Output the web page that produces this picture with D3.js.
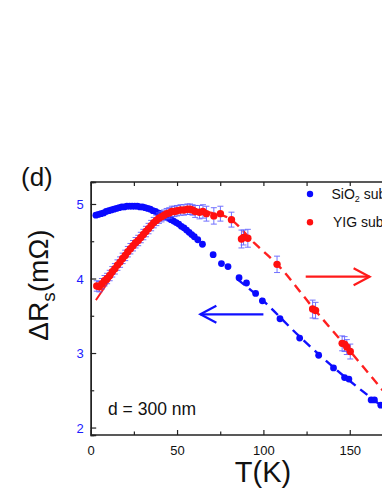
<!DOCTYPE html>
<html>
<head>
<meta charset="utf-8">
<script src="https://cdn.jsdelivr.net/npm/d3@7"></script>
<style>
  body { margin: 0; background: #fff; }
  svg { display: block; font-family: "Liberation Sans", Arial, sans-serif; }
</style>
</head>
<body>
<div id="chart"></div>
<script>
// SiO2 substrate (left axis, blue) : T (K), dRs (mOhm)
var blueT = [3, 4.5, 6, 7.5, 9, 10.5, 12, 13.5, 15, 16.5, 18, 19.5, 21, 22.5, 24, 25.5, 27, 28.5, 30, 31.5,
  33, 34.5, 36, 37.5, 39, 40.5, 42, 43.5, 45, 46.5, 48, 49.5, 51, 52.5, 54, 55.5, 57, 58.5, 60, 62,
  64.7, 70.9, 75.7, 79.5, 85.9, 90.2, 95.5, 99.4, 109.6, 121, 132, 140.6, 147, 149.5, 162.4, 164.3, 168];
var blueR = [4.85, 4.86, 4.87, 4.88, 4.90, 4.91, 4.92, 4.93, 4.94, 4.95, 4.96, 4.96, 4.97, 4.97, 4.97, 4.97, 4.97, 4.96, 4.96, 4.95,
  4.94, 4.93, 4.91, 4.90, 4.88, 4.87, 4.85, 4.83, 4.81, 4.79, 4.77, 4.75, 4.73, 4.70, 4.68, 4.65, 4.62, 4.59, 4.56, 4.52,
  4.46, 4.32, 4.20, 4.16, 4.01, 3.94, 3.80, 3.70, 3.46, 3.20, 2.97, 2.80, 2.67, 2.65, 2.37, 2.37, 2.30];

// YIG substrate (right axis, red), given in left-axis units
var redT = [3.5, 5, 6.5, 8, 9.5, 11, 12.5, 14, 15.5, 17, 18.5, 20, 21.5, 23, 24.5, 26, 27.5, 29, 30.5, 32,
  33.5, 35, 36.5, 38, 39.5, 41, 42.5, 44, 45.5, 47, 48.5, 50, 52, 54, 56, 57.5, 59, 60.5, 63, 65,
  67, 71.3, 75.1, 81.5, 87.3, 88.5, 91, 107.9, 128.5, 130.2, 145.6, 147, 148.3, 150.3];
var redR = [3.90, 3.89, 3.93, 3.97, 4.00, 4.04, 4.09, 4.13, 4.18, 4.22, 4.27, 4.31, 4.36, 4.40, 4.44, 4.48, 4.51, 4.55, 4.59, 4.63,
  4.67, 4.71, 4.75, 4.78, 4.81, 4.83, 4.85, 4.87, 4.88, 4.90, 4.90, 4.91, 4.92, 4.92, 4.93, 4.93, 4.92, 4.90, 4.89, 4.90,
  4.87, 4.84, 4.87, 4.79, 4.53, 4.55, 4.54, 4.19, 3.59, 3.57, 3.13, 3.12, 3.08, 3.02];
var redErr = [0.07, 0.07, 0.07, 0.07, 0.07, 0.07, 0.07, 0.07, 0.07, 0.07, 0.07, 0.07, 0.07, 0.07, 0.07, 0.07, 0.07, 0.07, 0.07, 0.07,
  0.07, 0.07, 0.07, 0.07, 0.07, 0.07, 0.07, 0.07, 0.07, 0.07, 0.07, 0.07, 0.07, 0.07, 0.07, 0.07, 0.07, 0.08, 0.09, 0.09,
  0.1, 0.11, 0.1, 0.1, 0.12, 0.1, 0.12, 0.11, 0.12, 0.11, 0.1, 0.1, 0.1, 0.1];

// fit lines
var blueFitT = [85, 98, 121, 141, 170, 180];
var blueFitR = [3.99, 3.74, 3.22, 2.80, 2.26, 2.08];
var redLowT = [3, 10, 20, 30, 40, 50, 57];
var redLowR = [3.71, 3.95, 4.30, 4.60, 4.81, 4.91, 4.93];
var redHighT = [57, 70, 80, 95, 108, 129, 150, 168, 180];
var redHighR = [4.93, 4.88, 4.81, 4.47, 4.19, 3.60, 3.03, 2.53, 2.19];

var xTicks = [0, 50, 100, 150];
var yTicks = [2, 3, 4, 5];

var W = 382, H = 494;
var svg = d3.select("#chart").append("svg").attr("width", W).attr("height", H);

var x = d3.scaleLinear().domain([0, 300]).range([90.7, 90.7 + 1.727 * 300]);
var y = d3.scaleLinear().domain([1.9, 5.295]).range([435, 182]);
var yR = y.copy();

var plotTop = 182, plotBottom = 435, plotLeft = 90.7, plotRight = x(300);

var g = svg.append("g");

// frame top line
g.append("line").attr("x1", plotLeft).attr("x2", plotRight).attr("y1", plotTop).attr("y2", plotTop)
  .attr("stroke", "#222").attr("stroke-width", 1.4);

var xAxis = g.append("g").attr("transform", "translate(0," + plotBottom + ")")
  .call(d3.axisBottom(x).tickValues(xTicks).tickSize(-5).tickPadding(11).tickFormat(d3.format("d")));
var xMinor = g.append("g").attr("transform", "translate(0," + plotBottom + ")")
  .call(d3.axisBottom(x).tickValues(d3.range(25, 300, 50)).tickSize(-3.5).tickFormat(""));
var xTop = g.append("g").attr("transform", "translate(0," + plotTop + ")")
  .call(d3.axisTop(x).tickValues(d3.range(0, 301, 25)).tickSize(-4).tickFormat(""));

var yAxis = g.append("g").attr("transform", "translate(" + plotLeft + ",0)")
  .call(d3.axisLeft(y).tickValues(yTicks).tickSize(-5.5).tickPadding(7).tickFormat(d3.format("d")));
var yMinor = g.append("g").attr("transform", "translate(" + plotLeft + ",0)")
  .call(d3.axisLeft(y).tickValues([2.5, 3.5, 4.5]).tickSize(-3.5).tickFormat(""));

[xAxis, xMinor, xTop, yAxis, yMinor].forEach(function(a) {
  a.select(".domain").attr("stroke", "#222").attr("stroke-width", 1.4);
  a.selectAll(".tick line").attr("stroke", "#222").attr("stroke-width", 1.2);
});
xMinor.select(".domain").remove();
xTop.select(".domain").remove();
xAxis.select(".domain").attr("d", "M" + plotLeft + ",0H" + plotRight);
xAxis.selectAll("text").attr("font-size", 13).attr("fill", "#111");
yAxis.selectAll("text").attr("font-size", 13).attr("fill", "#1a1aff").attr("dy", "0.36em");

var line = d3.line().curve(d3.curveMonotoneX);

// red solid fit (low T)
g.append("path")
  .attr("d", line(redLowT.map(function(t, i) { return [x(t), yR(redLowR[i])]; })))
  .attr("fill", "none").attr("stroke", "#ff1a1a").attr("stroke-width", 2);

// dashed fits
g.append("path")
  .attr("d", line(blueFitT.map(function(t, i) { return [x(t), y(blueFitR[i])]; })))
  .attr("fill", "none").attr("stroke", "#1010ff").attr("stroke-width", 2.4)
  .attr("stroke-dasharray", "9,6");
g.append("path")
  .attr("d", line(redHighT.map(function(t, i) { return [x(t), yR(redHighR[i])]; })))
  .attr("fill", "none").attr("stroke", "#ff2020").attr("stroke-width", 2.4)
  .attr("stroke-dasharray", "9,6");

// blue points
g.selectAll(".bdot").data(blueT).enter().append("circle")
  .attr("class", "bdot")
  .attr("cx", function(d) { return x(d); })
  .attr("cy", function(d, i) { return y(blueR[i]); })
  .attr("r", 3.4).attr("fill", "#0a0aff");

// red error bars
var eb = g.selectAll(".err").data(redT).enter().append("g").attr("class", "err")
  .attr("stroke", "#5a5aff").attr("stroke-width", 1).attr("opacity", 0.85);
eb.append("line")
  .attr("x1", function(d) { return x(d); }).attr("x2", function(d) { return x(d); })
  .attr("y1", function(d, i) { return yR(redR[i] + redErr[i]); })
  .attr("y2", function(d, i) { return yR(redR[i] - redErr[i]); });
eb.append("line")
  .attr("x1", function(d) { return x(d) - 3; }).attr("x2", function(d) { return x(d) + 3; })
  .attr("y1", function(d, i) { return yR(redR[i] + redErr[i]); })
  .attr("y2", function(d, i) { return yR(redR[i] + redErr[i]); });
eb.append("line")
  .attr("x1", function(d) { return x(d) - 3; }).attr("x2", function(d) { return x(d) + 3; })
  .attr("y1", function(d, i) { return yR(redR[i] - redErr[i]); })
  .attr("y2", function(d, i) { return yR(redR[i] - redErr[i]); });

// red points
g.selectAll(".rdot").data(redT).enter().append("circle")
  .attr("class", "rdot")
  .attr("cx", function(d) { return x(d); })
  .attr("cy", function(d, i) { return yR(redR[i]); })
  .attr("r", 3.7).attr("fill", "#ff1010");

// arrows
function arrow(x1, x2, yy, color) {
  var dir = x2 > x1 ? -1 : 1;
  g.append("line").attr("x1", x1).attr("x2", x2).attr("y1", yy).attr("y2", yy)
    .attr("stroke", color).attr("stroke-width", 2.2);
  g.append("path")
    .attr("d", "M" + (x2 + dir * 16) + "," + (yy - 8.5) + "L" + x2 + "," + yy + "L" + (x2 + dir * 16) + "," + (yy + 8.5))
    .attr("fill", "none").attr("stroke", color).attr("stroke-width", 2.2);
}
arrow(x(100), x(63.5), 314.3, "#1010ff");
arrow(x(124.5), x(161.5), 276.7, "#ff1a1a");

// legend
var legendColors = ["#0a0aff", "#ff1010"];
var legendY = [194, 222.3];
legendColors.forEach(function(c, i) {
  g.append("circle").attr("cx", 310).attr("cy", legendY[i]).attr("r", 3.2).attr("fill", c);
});
var t1 = g.append("text").attr("x", 331.5).attr("y", 198.5).attr("font-size", 14).attr("fill", "#111");
t1.append("tspan").text("SiO");
t1.append("tspan").attr("font-size", 9).attr("dy", 3).text("2");
t1.append("tspan").attr("dy", -3).text(" sub");
g.append("text").attr("x", 333).attr("y", 227).attr("font-size", 14).attr("fill", "#111").text("YIG sub");

g.append("text").attr("x", 108).attr("y", 415).attr("font-size", 17.5).attr("fill", "#111").text("d = 300 nm");

// titles
svg.append("text").attr("x", 21).attr("y", 186).attr("font-size", 26).attr("fill", "#111").text("(d)");
svg.append("text").attr("x", 263).attr("y", 482).attr("text-anchor", "middle")
  .attr("font-size", 29).attr("fill", "#111").text("T(K)");
var yl = svg.append("text").attr("transform", "translate(48,285) rotate(-90)")
  .attr("text-anchor", "middle").attr("font-size", 28).attr("fill", "#111");
yl.append("tspan").text("ΔR");
yl.append("tspan").attr("font-size", 19).attr("dy", 7).text("s");
yl.append("tspan").attr("dy", -7).text("(mΩ)");
</script>
</body>
</html>
